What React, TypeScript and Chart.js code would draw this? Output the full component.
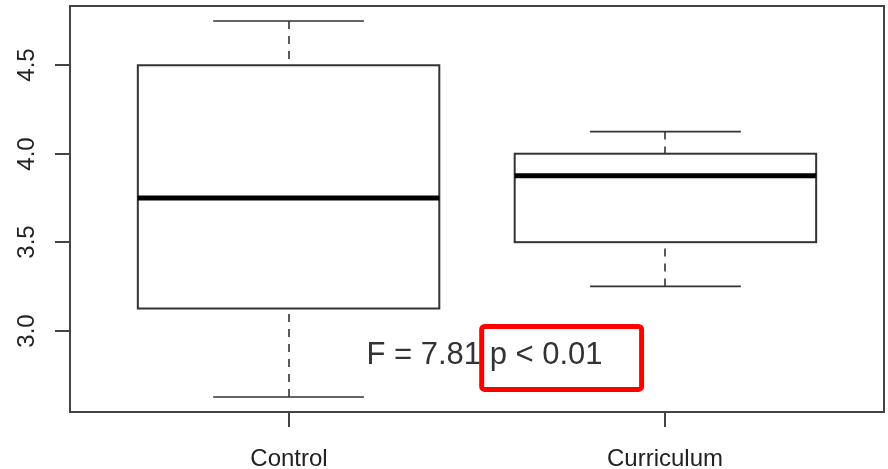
import React, { useEffect, useRef } from "react";
import { Chart, registerables } from "chart.js";

Chart.register(...registerables);

// ---- data ----
const categories = ["Control", "Curriculum"];
const whiskerLow = [2.625, 3.25];
const quartile1 = [3.125, 3.5];
const medians = [3.75, 3.875];
const quartile3 = [4.5, 4.0];
const whiskerHigh = [4.75, 4.125];
const yTickValues = [3.0, 3.5, 4.0, 4.5];
const yTickLabels = ["3.0", "3.5", "4.0", "4.5"];
const annotationText = "F = 7.81 p < 0.01";
const annotationPrefix = "F = 7.81 ";
const annotationAt = { x: 1.52, y: 2.86 };

const FONT = "'Liberation Sans', Arial, Helvetica, sans-serif";

const boxPlotPlugin = {
  id: "rBoxPlot",
  afterDraw(chart: any) {
    const ctx = chart.ctx as CanvasRenderingContext2D;
    const xs = chart.scales.x;
    const ys = chart.scales.y;
    const { left, right, top, bottom } = chart.chartArea;
    ctx.save();

    // frame
    ctx.strokeStyle = "#444";
    ctx.lineWidth = 2;
    ctx.strokeRect(left, top, right - left, bottom - top);

    // y axis ticks + rotated labels
    ctx.fillStyle = "#222";
    ctx.font = `24px ${FONT}`;
    yTickValues.forEach((v, i) => {
      const y = Math.round(ys.getPixelForValue(v));
      ctx.beginPath();
      ctx.moveTo(left - 15, y);
      ctx.lineTo(left, y);
      ctx.stroke();
      ctx.save();
      ctx.translate(left - 43, y);
      ctx.rotate(-Math.PI / 2);
      ctx.textAlign = "center";
      ctx.textBaseline = "middle";
      ctx.fillText(yTickLabels[i], 0, 0);
      ctx.restore();
    });

    // x axis ticks + labels
    categories.forEach((c, i) => {
      const x = Math.round(xs.getPixelForValue(i + 1));
      ctx.beginPath();
      ctx.moveTo(x, bottom);
      ctx.lineTo(x, bottom + 15);
      ctx.stroke();
      ctx.textAlign = "center";
      ctx.textBaseline = "middle";
      ctx.fillText(c, x, bottom + 47);
    });

    // boxes
    categories.forEach((_, i) => {
      const cx = Math.round(xs.getPixelForValue(i + 1));
      const bl = xs.getPixelForValue(i + 1 - 0.4);
      const br = xs.getPixelForValue(i + 1 + 0.4);
      const cl = xs.getPixelForValue(i + 1 - 0.2);
      const cr = xs.getPixelForValue(i + 1 + 0.2);
      const yLo = ys.getPixelForValue(whiskerLow[i]);
      const yQ1 = ys.getPixelForValue(quartile1[i]);
      const yMed = ys.getPixelForValue(medians[i]);
      const yQ3 = ys.getPixelForValue(quartile3[i]);
      const yHi = ys.getPixelForValue(whiskerHigh[i]);

      ctx.strokeStyle = "#333";
      // whiskers (dashed)
      ctx.lineWidth = 1.6;
      ctx.setLineDash([8, 7]);
      ctx.beginPath();
      ctx.moveTo(cx, yHi);
      ctx.lineTo(cx, yQ3);
      ctx.moveTo(cx, yLo);
      ctx.lineTo(cx, yQ1);
      ctx.stroke();
      ctx.setLineDash([]);
      // caps
      ctx.beginPath();
      ctx.moveTo(cl, yHi);
      ctx.lineTo(cr, yHi);
      ctx.moveTo(cl, yLo);
      ctx.lineTo(cr, yLo);
      ctx.stroke();
      // box
      ctx.fillStyle = "#fff";
      ctx.fillRect(bl, yQ3, br - bl, yQ1 - yQ3);
      ctx.lineWidth = 2;
      ctx.strokeRect(bl, yQ3, br - bl, yQ1 - yQ3);
      // median
      ctx.strokeStyle = "#000";
      ctx.lineWidth = 5;
      ctx.beginPath();
      ctx.moveTo(bl, yMed);
      ctx.lineTo(br, yMed);
      ctx.stroke();
    });

    // annotation text
    const ax = xs.getPixelForValue(annotationAt.x);
    const ay = ys.getPixelForValue(annotationAt.y);
    ctx.font = `31px ${FONT}`;
    ctx.fillStyle = "#333";
    ctx.textAlign = "center";
    ctx.textBaseline = "middle";
    ctx.fillText(annotationText, ax, ay);
    const fullW = ctx.measureText(annotationText).width;
    const preW = ctx.measureText(annotationPrefix).width;
    const textLeft = ax - fullW / 2;
    const textRight = ax + fullW / 2;
    const rl = textLeft + preW - 8;
    const rr = textRight + 39;
    const rt = ay - 29;
    const rb = ay + 34;
    ctx.strokeStyle = "#ff0000";
    ctx.lineWidth = 5;
    ctx.lineJoin = "round";
    ctx.beginPath();
    (ctx as any).roundRect
      ? (ctx as any).roundRect(rl, rt, rr - rl, rb - rt, 3)
      : ctx.rect(rl, rt, rr - rl, rb - rt);
    ctx.stroke();

    ctx.restore();
  },
};

export default function App() {
  const canvasRef = useRef<HTMLCanvasElement | null>(null);

  useEffect(() => {
    if (!canvasRef.current) return;
    const n = categories.length;
    const lo = Math.min(...whiskerLow);
    const hi = Math.max(...whiskerHigh);
    const yPad = (hi - lo) * 0.04;
    const xPad = n * 0.04;
    const chart = new Chart(canvasRef.current, {
      type: "scatter",
      data: {
        datasets: [
          {
            label: "median",
            data: medians.map((m, i) => ({ x: i + 1, y: m })),
            pointRadius: 0,
            showLine: false,
          },
        ],
      },
      options: {
        animation: false,
        responsive: true,
        maintainAspectRatio: false,
        layout: { padding: { left: 70, right: 4, top: 6, bottom: 57 } },
        plugins: { legend: { display: false }, tooltip: { enabled: false } },
        scales: {
          x: { type: "linear", display: false, min: 0.5 - xPad, max: n + 0.5 + xPad },
          y: { type: "linear", display: false, min: lo - yPad, max: hi + yPad },
        },
      },
      plugins: [boxPlotPlugin],
    });
    return () => chart.destroy();
  }, []);

  return (
    <div
      style={{
        position: "fixed",
        left: 0,
        top: 0,
        width: 888,
        height: 469,
        background: "#fff",
      }}
    >
      <canvas ref={canvasRef} />
    </div>
  );
}
